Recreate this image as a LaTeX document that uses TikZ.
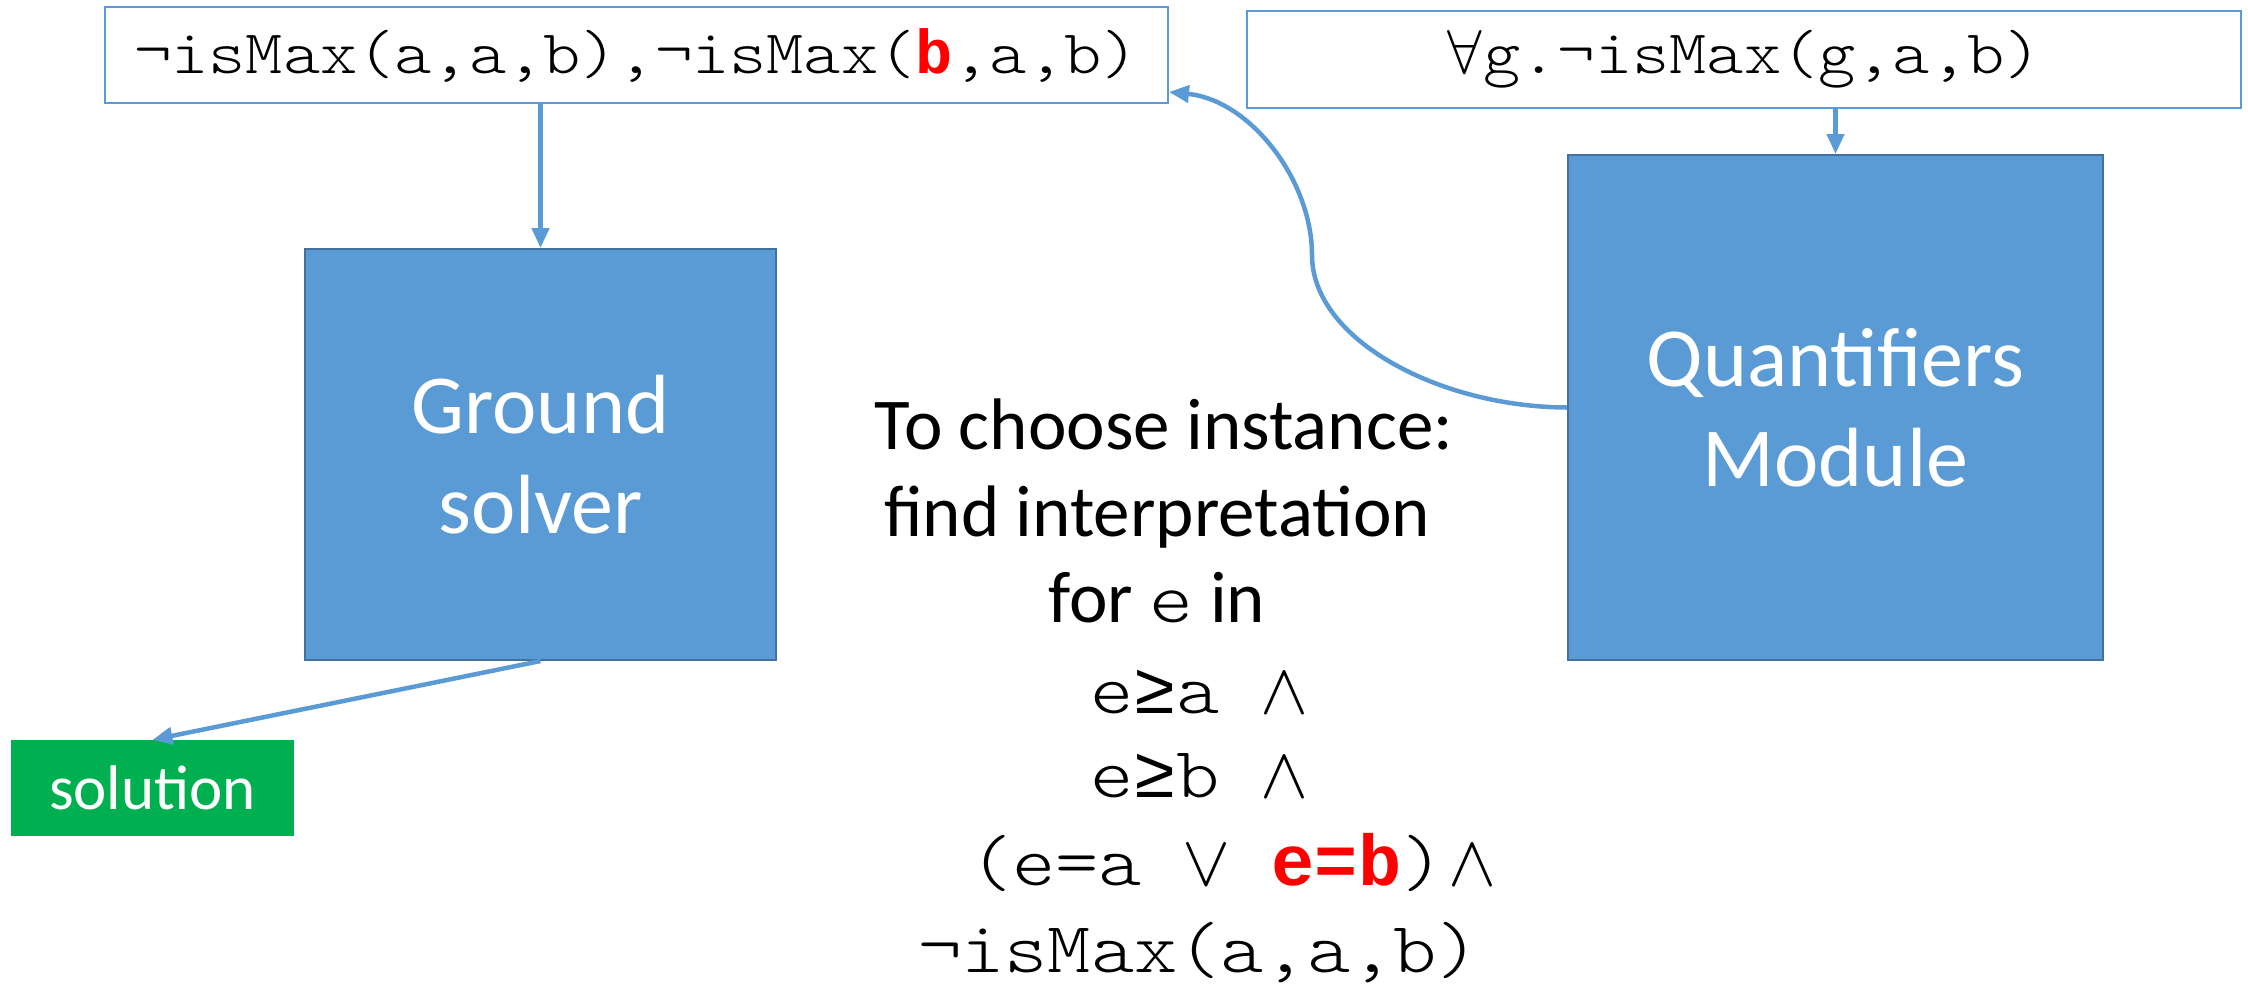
\RequirePackage{fix-cm}
\documentclass[tikz,border=0pt]{standalone}
\usepackage{fontspec}
\setmainfont{Carlito}
% thin slab-serif mono, widened to the 0.6em advance of a typewriter face
\setmonofont{lmmonolt10-regular.otf}[FakeStretch=1.143]
\newfontfamily\libmono{Liberation Mono}
\usetikzlibrary{arrows.meta}
\definecolor{boxblue}{HTML}{5B9BD5}
\definecolor{boxedge}{HTML}{41719C}
\definecolor{solgreen}{HTML}{00B050}
\definecolor{hired}{HTML}{FF0000}
\newcommand{\hlred}[1]{{\libmono\bfseries\color{hired}#1}}
\newcommand{\gesym}{{\libmono ≥}}
% logic operators set in one typewriter cell
\newcommand{\mop}[1]{\makebox[0.6em]{$#1$}}
\begin{document}
\begin{tikzpicture}[x=1pt,y=-1pt,
  module/.style={draw=boxedge, line width=2pt, fill=boxblue, text=white,
    font=\fontsize{84}{100}\selectfont, align=center, inner sep=0pt},
  formula/.style={draw=boxblue, line width=2pt, fill=white,
    font=\ttfamily\fontsize{62}{70}\selectfont, inner sep=0pt},
  result/.style={fill=solgreen, text=white, font=\fontsize{63}{70}\selectfont, inner sep=0pt},
  flow/.style={draw=boxblue, line width=4.5pt, -{Triangle[length=20pt,width=17pt]}},
  caption/.style={font=\fontsize{73}{86}\selectfont, anchor=base, inner sep=0pt},
  mathline/.style={font=\ttfamily\fontsize{72}{86}\selectfont, anchor=base west, inner sep=0pt},
]
\useasboundingbox (0,0) rectangle (2248,989);

% formula boxes on top
\node[formula, minimum width=1063pt, minimum height=96pt] (TL) at (636.5,55)
  {¬isMax(a,a,b),¬isMax(\hlred{b},a,b)};
\node[formula, minimum width=994pt, minimum height=97pt] (TR) at (1744,59.5)
  {\mop{\forall}g.¬isMax(g,a,b)};

% solver modules
\node[module, minimum width=471pt, minimum height=411pt] (GS) at (540.5,454.5)
  {Ground\\solver};
\node[module, minimum width=535pt, minimum height=505pt] (QM) at (1835.5,407.5)
  {Quantifiers\\Module};

% output
\node[result, minimum width=283pt, minimum height=96pt] (SOL) at (152.5,788) {solution};

% explanation text
\node[caption] (c1) at (1164,449) {To choose instance:};
\node[caption] (c2) at (1157,536) {find interpretation};
\node[caption] (c3) at (1157,622) {for {\ttfamily e} in};
\node[mathline] (m1) at (1090,713) {e\gesym a \mop{\wedge}};
\node[mathline] (m2) at (1090,797) {e\gesym b \mop{\wedge}};
\node[mathline] (m3) at (969,885) {(e=a \mop{\vee} \hlred{e=b})\kern6pt\mop{\wedge}};
\node[mathline] (m4) at (918,972) {¬isMax(a,a,b)};

% connectors
\draw[flow] (GS.north |- TL.south) -- (GS.north);
\draw[flow] (QM.north |- TR.south) -- (QM.north);
\draw[flow] (GS.south) -- (SOL.north);
\coordinate (bend) at (1312,255);
\draw[flow] (QM.west) .. controls (1440,407) and (1312,340) .. (bend)
  .. controls (1312,180) and (1250,100) .. ([yshift=-37pt]TL.east);
\end{tikzpicture}
\end{document}
